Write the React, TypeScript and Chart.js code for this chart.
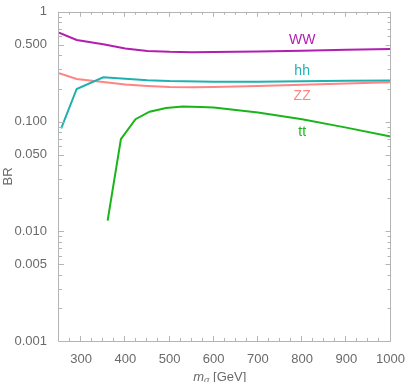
import React, { useEffect, useRef } from "react";
import { Chart, registerables } from "chart.js";

Chart.register(...registerables);

// ---- data ----
const wwMass = [250, 290, 350, 400, 450, 500, 550, 600, 700, 800, 900, 1000];
const wwBR = [0.647, 0.553, 0.505, 0.462, 0.44, 0.432, 0.429, 0.43, 0.435, 0.442, 0.45, 0.457];

const hhMass = [255, 290, 350, 400, 450, 500, 600, 700, 800, 900, 1000];
const hhBR = [0.0865, 0.198, 0.253, 0.245, 0.238, 0.234, 0.231, 0.231, 0.233, 0.235, 0.237];

const zzMass = [250, 290, 350, 400, 450, 500, 550, 600, 700, 800, 900, 1000];
const zzBR = [0.275, 0.244, 0.229, 0.218, 0.211, 0.206, 0.205, 0.206, 0.211, 0.216, 0.222, 0.228];

const ttMass = [360, 390, 423, 455, 492, 530, 570, 600, 700, 800, 900, 1000];
const ttBR = [0.0125, 0.069, 0.105, 0.123, 0.133, 0.137, 0.136, 0.134, 0.121, 0.105, 0.088, 0.073];

const seriesNames = ["WW", "hh", "ZZ", "tt"];
const seriesColors = ["#b01fb0", "#1fb0b0", "#ff8585", "#1ab51a"];
const labelMass = [800, 800, 800, 800];
const labelBR = [0.551, 0.288, 0.169, 0.0804];

const xTickValues = [300, 400, 500, 600, 700, 800, 900, 1000];
const xMinorStep = 25;
const yTickValues = [0.001, 0.005, 0.01, 0.05, 0.1, 0.5, 1];
const yTickLabels = ["0.001", "0.005", "0.010", "0.050", "0.100", "0.500", "1"];
const xMin = 250;
const xMax = 1000;
const yMin = 0.001;
const yMax = 1;

const FONT = "'Liberation Sans', Arial, sans-serif";
const GRAY = "#6a6a6a";
const FRAME = "#b4b4b4";

const toPoints = (xs: number[], ys: number[]) => xs.map((x, i) => ({ x, y: ys[i] }));

const framePlugin = {
  id: "frameTicks",
  afterDatasetsDraw(chart: any) {
    const { ctx, chartArea } = chart;
    const xs = chart.scales.x;
    const ys = chart.scales.y;
    const { left, right, top, bottom } = chartArea;
    ctx.save();
    ctx.strokeStyle = FRAME;
    ctx.lineWidth = 1;
    ctx.beginPath();
    ctx.rect(Math.round(left) - 0.5, Math.round(top) + 0.5, Math.round(right - left), Math.round(bottom - top));
    ctx.stroke();
    // x ticks
    ctx.beginPath();
    for (let v = xMin; v <= xMax + 1e-6; v += xMinorStep) {
      const major = v % 100 === 0;
      const len = major ? 5 : 3;
      const px = Math.round(xs.getPixelForValue(v)) - 0.5;
      ctx.moveTo(px, bottom);
      ctx.lineTo(px, bottom - len);
      ctx.moveTo(px, top);
      ctx.lineTo(px, top + len);
    }
    // y ticks
    for (let d = -3; d <= 0; d++) {
      for (let m = 1; m <= 9; m++) {
        const v = m * Math.pow(10, d);
        if (v > yMax * 1.0001) continue;
        const major = m === 1 || m === 5;
        const len = major ? 5 : 3;
        const py = Math.round(ys.getPixelForValue(v)) + 0.5;
        ctx.moveTo(left, py);
        ctx.lineTo(left + len, py);
        ctx.moveTo(right, py);
        ctx.lineTo(right - len, py);
      }
    }
    ctx.stroke();

    // curve labels
    ctx.font = `14px ${FONT}`;
    ctx.textAlign = "center";
    ctx.textBaseline = "middle";
    seriesNames.forEach((name, i) => {
      ctx.fillStyle = seriesColors[i];
      ctx.fillText(name, xs.getPixelForValue(labelMass[i]), ys.getPixelForValue(labelBR[i]));
    });

    // x axis title: m_sigma [GeV]
    const base = 381;
    const f1 = `italic 13px ${FONT}`;
    const f2 = `italic 9px ${FONT}`;
    const f3 = `13px ${FONT}`;
    ctx.font = f1;
    const w1 = ctx.measureText("m").width;
    ctx.font = f2;
    const w2 = ctx.measureText("σ").width;
    ctx.font = f3;
    const w3 = ctx.measureText(" [GeV]").width;
    const total = w1 + w2 + w3;
    let x0 = (left + right) / 2 - 5 - total / 2;
    ctx.fillStyle = GRAY;
    ctx.textAlign = "left";
    ctx.textBaseline = "alphabetic";
    ctx.font = f1;
    ctx.fillText("m", x0, base);
    x0 += w1;
    ctx.font = f2;
    ctx.fillText("σ", x0, base + 2);
    x0 += w2;
    ctx.font = f3;
    ctx.fillText(" [GeV]", x0, base);
    ctx.restore();
  },
};

export default function App() {
  const ref = useRef<HTMLCanvasElement>(null);
  useEffect(() => {
    if (!ref.current) return;
    const datasets = [
      toPoints(wwMass, wwBR),
      toPoints(hhMass, hhBR),
      toPoints(zzMass, zzBR),
      toPoints(ttMass, ttBR),
    ].map((data, i) => ({
      label: seriesNames[i],
      data,
      borderColor: seriesColors[i],
      backgroundColor: seriesColors[i],
      borderWidth: 2,
      pointRadius: 0,
      tension: 0,
      fill: false,
    }));
    const chart = new Chart(ref.current, {
      type: "line",
      data: { datasets },
      options: {
        animation: false,
        responsive: false,
        devicePixelRatio: 1,
        layout: { padding: { top: 8, right: 16, left: 0, bottom: 0 } },
        plugins: {
          legend: { display: false },
          tooltip: { enabled: false },
        },
        scales: {
          x: {
            type: "linear",
            min: xMin,
            max: xMax,
            afterBuildTicks: (s: any) => {
              s.ticks = xTickValues.map((v) => ({ value: v }));
            },
            afterFit: (s: any) => {
              s.height = 41;
            },
            grid: { display: false },
            border: { display: false },
            ticks: {
              color: GRAY,
              font: { family: FONT, size: 13 },
              padding: 3,
              maxRotation: 0,
              autoSkip: false,
              callback: (v: any) => String(v),
            },
          },
          y: {
            type: "logarithmic",
            min: yMin,
            max: yMax,
            afterBuildTicks: (s: any) => {
              s.ticks = yTickValues.map((v) => ({ value: v }));
            },
            afterFit: (s: any) => {
              s.width = 59;
            },
            grid: { display: false },
            border: { display: false },
            ticks: {
              color: GRAY,
              font: { family: FONT, size: 13 },
              padding: 4,
              autoSkip: false,
              callback: (_v: any, i: number) => yTickLabels[i],
            },
            title: {
              display: true,
              text: "BR",
              color: GRAY,
              font: { family: FONT, size: 13 },
              padding: { top: 1, bottom: 0 },
            },
          },
        },
      },
      plugins: [framePlugin],
    } as any);
    return () => chart.destroy();
  }, []);
  return (
    <div style={{ position: "absolute", left: 0, top: 0, width: 408, height: 382, background: "#fff" }}>
      <canvas ref={ref} width={408} height={382} style={{ display: "block" }} />
    </div>
  );
}
